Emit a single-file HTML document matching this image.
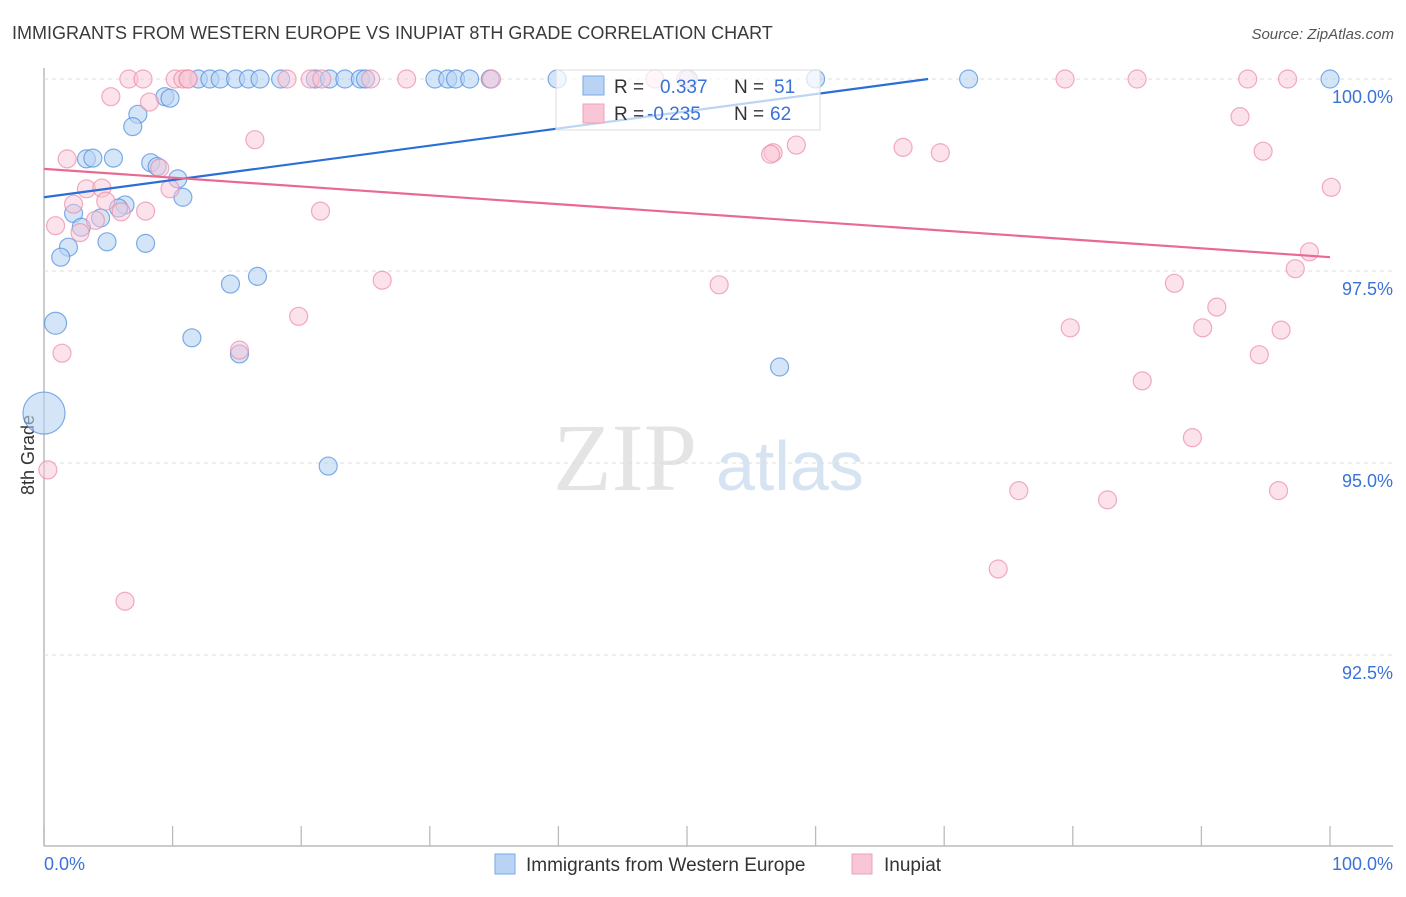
<!DOCTYPE html>
<html><head><meta charset="utf-8"><style>
body{margin:0;background:#fff;font-family:"Liberation Sans",sans-serif}
svg text{font-family:"Liberation Sans",sans-serif}
</style></head><body>
<svg id="c" width="1406" height="892">
<text x="12" y="39" font-size="18" fill="#3a3a3a">IMMIGRANTS FROM WESTERN EUROPE VS INUPIAT 8TH GRADE CORRELATION CHART</text>
<text x="1394" y="39" font-size="15" fill="#555" text-anchor="end" font-style="italic">Source: ZipAtlas.com</text>
<text x="553" y="490" font-size="96" fill="#e4e4e4" style="font-family:'Liberation Serif',serif">ZIP</text>
<text x="716" y="490" font-size="70" fill="#d6e3f3">atlas</text>
<text transform="translate(34,455) rotate(-90)" font-size="18" fill="#333" text-anchor="middle">8th Grade</text>
<g id="grid"></g><g id="pts"></g><g id="lines"></g>
<g>
<rect x="556" y="70" width="264" height="60" fill="#fff" fill-opacity="0.7" stroke="#ddd"/>
<rect x="583" y="76" width="21" height="19" fill="#b8d3f4" stroke="#7aaae6"/>
<rect x="583" y="104" width="21" height="19" fill="#f9c6d5" stroke="#eea0b8"/>
<text x="614" y="93" font-size="19" fill="#333">R = <tspan fill="#3a72d8" x="660">0.337</tspan><tspan fill="#333" x="734">N = </tspan><tspan fill="#3a72d8" x="774">51</tspan></text>
<text x="614" y="120" font-size="19" fill="#333">R = <tspan fill="#3a72d8" x="647">-0.235</tspan><tspan fill="#333" x="734">N = </tspan><tspan fill="#3a72d8" x="770">62</tspan></text>
</g>
<g>
<rect x="495" y="854" width="20" height="20" fill="#b8d3f4" stroke="#7aaae6"/>
<text x="526" y="871" font-size="19" fill="#333">Immigrants from Western Europe</text>
<rect x="852" y="854" width="20" height="20" fill="#f9c6d5" stroke="#eea0b8"/>
<text x="884" y="871" font-size="19" fill="#333">Inupiat</text>
</g>
<text x="44" y="870" font-size="18" fill="#3a72d8">0.0%</text>
<text x="1393" y="870" font-size="18" fill="#3a72d8" text-anchor="end">100.0%</text>
</svg>
<script>
const yTicks=[100,97.5,95,92.5];
const yTickLabels=["100.0%","97.5%","95.0%","92.5%"];
const blueX=[12.0,12.9,13.7,14.9,15.9,16.8,18.4,21.1,22.2,23.4,24.6,25.0,30.4,31.4,32.0,33.1,34.7,39.9,50.1,60.0,71.9,100,9.4,9.8,7.3,6.9,3.3,3.8,5.4,8.3,8.8,10.4,10.8,6.3,5.8,2.3,4.4,2.9,1.9,4.9,7.9,1.3,14.5,16.6,0.9,11.5,15.2,57.2,0.0,22.1];
const blueY=[100,100,100,100,100,100,100,100,100,100,100,100,100,100,100,100,100,100,100,100,100,100,99.77,99.75,99.54,99.38,98.96,98.97,98.97,98.91,98.86,98.7,98.46,98.36,98.32,98.25,98.19,98.07,97.81,97.88,97.86,97.68,97.33,97.43,96.82,96.63,96.42,96.25,95.65,94.96];
const blueR=[9,9,9,9,9,9,9,9,9,9,9,9,9,9,9,9,9,9,9,9,9,9,9,9,9,9,9,9,9,9,9,9,9,9,9,9,9,9,9,9,9,9,9,9,11,9,9,9,21,9];
const pinkX=[6.6,7.7,10.2,10.8,11.2,11.2,18.9,20.7,21.6,25.4,28.2,34.8,47.5,49.9,79.4,85.0,93.6,96.7,
5.2,8.2,93.0,16.4,1.8,94.8,56.7,56.5,58.5,66.8,69.7,9.0,3.3,4.5,9.8,100.1,2.3,4.8,7.9,21.5,6.0,4.0,0.9,2.8,98.4,97.3,26.3,52.5,87.9,91.2,19.8,79.8,90.1,96.2,1.4,15.2,94.5,85.4,89.3,75.8,82.7,96.0,0.3,74.2,6.3];
const pinkY=[100,100,100,100,100,100,100,100,100,100,100,100,100,100,100,100,100,100,
99.77,99.70,99.51,99.21,98.96,99.06,99.04,99.02,99.14,99.11,99.04,98.84,98.57,98.58,98.57,98.59,98.37,98.41,98.28,98.28,98.27,98.16,98.09,98.0,97.75,97.53,97.38,97.32,97.34,97.03,96.91,96.76,96.76,96.73,96.43,96.47,96.41,96.07,95.33,94.64,94.52,94.64,94.91,93.62,93.20];
const blueTrend=[98.46,100.7];
const pinkTrend=[98.83,97.68];
const X0=44,X1=1330,Y100=79,PXU=76.8;
const sx=v=>X0+(v/100)*(X1-X0);
const sy=v=>Y100+(100-v)*PXU;
const NS="http://www.w3.org/2000/svg";
function mk(t,a,p){const e=document.createElementNS(NS,t);for(const k in a)e.setAttribute(k,a[k]);p.appendChild(e);return e;}
const grid=document.getElementById('grid'),pts=document.getElementById('pts'),lines=document.getElementById('lines');
let ax=mk('line',{x1:44,y1:68,x2:44,y2:846,stroke:'#bbb','stroke-width':1.5},grid);


let bx=mk('line',{x1:44,y1:846,x2:1393,y2:846,stroke:'#bbb','stroke-width':1.5},grid);


for(let i=0;i<=10;i++){const x=44+i*128.6;const t=mk('line',{x1:x,y1:826,x2:x,y2:846,stroke:'#bbb','stroke-width':1.3},grid);

}
yTicks.forEach((v,i)=>{const g=mk('line',{x1:44,y1:sy(v),x2:1393,y2:sy(v),stroke:'#ddd','stroke-dasharray':'4,4'},grid);


const t=mk('text',{x:1393,y:sy(v)+24,'font-size':18,fill:'#3a72d8','text-anchor':'end'},grid);t.textContent=yTickLabels[i];

});
blueX.forEach((x,i)=>{const c=mk('circle',{cx:sx(x),cy:sy(blueY[i]),r:blueR[i],fill:'#b8d3f4','fill-opacity':0.6,stroke:'#4d8ce0','stroke-opacity':0.7,'stroke-width':1.2},pts);

});
pinkX.forEach((x,i)=>{const c=mk('circle',{cx:sx(x),cy:sy(pinkY[i]),r:9,fill:'#f9c6d5','fill-opacity':0.5,stroke:'#eb8aa8','stroke-opacity':0.7,'stroke-width':1.2},pts);

});
const bxEnd=(100-blueTrend[0])/(blueTrend[1]-blueTrend[0])*100;
let bl=mk('line',{x1:sx(0),y1:sy(blueTrend[0]),x2:sx(bxEnd),y2:sy(100),stroke:'#2a6fd6','stroke-width':2.2},lines);


let pl=mk('line',{x1:sx(0),y1:sy(pinkTrend[0]),x2:sx(100),y2:sy(pinkTrend[1]),stroke:'#e86a93','stroke-width':2.2},lines);


</script>
</body></html>
